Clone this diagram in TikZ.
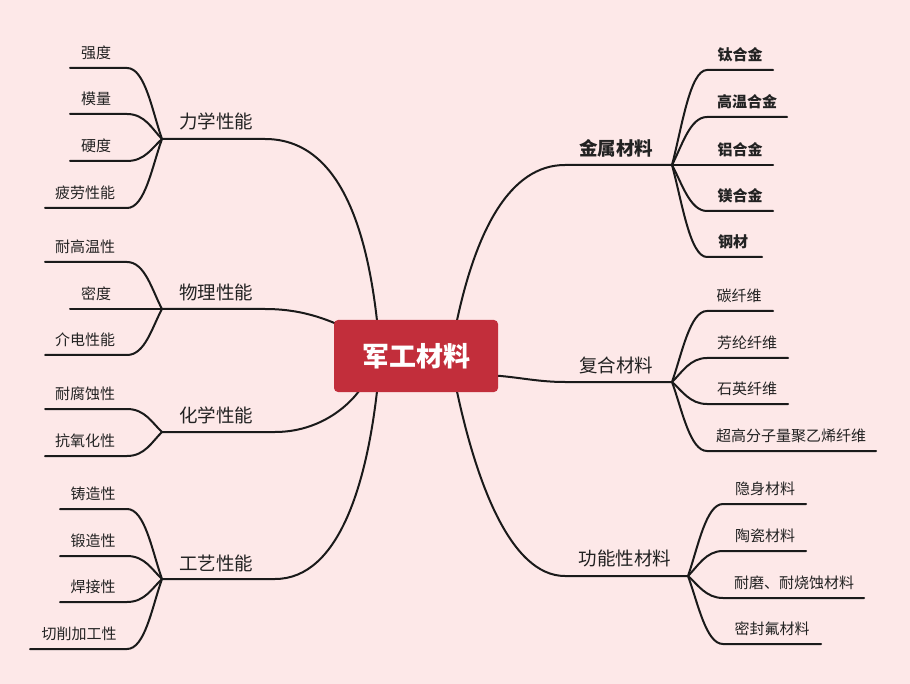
\documentclass[tikz,border=0pt]{standalone}
\usepackage{fontspec}
\setmainfont{Noto Sans CJK SC}
\definecolor{bgc}{HTML}{FDE8E8}
\definecolor{boxc}{HTML}{C22E3B}
\definecolor{linec}{HTML}{1A1A1A}
\definecolor{txtc}{HTML}{222222}
\tikzset{
  conn/.style={draw=linec, line width=2pt, line cap=round},
  leaflabel/.style={font=\fontsize{15}{18}\selectfont, text=txtc, inner sep=0pt},
  branchlabel/.style={font=\fontsize{18.5}{22}\selectfont, text=txtc, inner sep=0pt},
  rootbox/.style={fill=boxc, rounded corners=4pt, minimum width=164pt, minimum height=72pt, text=white, font=\fontsize{27}{32}\selectfont\bfseries},
}
% name, joint, jy, xa, y, lx, text
\newcommand\LeafL[7]{%
  \coordinate (#1-a) at (#4,#5);
  \coordinate (#1-b) at (127,#5);
  \node[leaflabel] (#1) at (#6,#5-15) {#7};
  \draw[conn] (#1-a) -- (#1-b) .. controls (145,#5) and (152,{0.6*#3+0.4*#5}) .. (#2);
}
% name, joint, jx, jy, xb, y, lx, text
\newcommand\LeafR[8]{%
  \coordinate (#1-a) at (#3+35,#6);
  \coordinate (#1-b) at (#5,#6);
  \node[leaflabel] (#1) at (#7,#6-15) {#8};
  \draw[conn] (#2) .. controls (#3+10,{0.6*#4+0.4*#6}) and (#3+18,#6) .. (#1-a) -- (#1-b);
}
\begin{document}
\begin{tikzpicture}[x=1pt,y=-1pt]
\fill[bgc] (0,0) rectangle (910,684);
\useasboundingbox (0,0) rectangle (910,684);

% joints and branch points
\coordinate (J1) at (162,139); \coordinate (B1) at (265,139); \coordinate (C1) at (378,330);
\coordinate (J2) at (162,309); \coordinate (B2) at (265,309); \coordinate (C2) at (350,330);
\coordinate (J3) at (162,432); \coordinate (B3) at (275,432); \coordinate (C3) at (365,382);
\coordinate (J4) at (162,579); \coordinate (B4) at (275,579); \coordinate (C4) at (378,382);
\coordinate (J5) at (672,165); \coordinate (B5) at (565,165); \coordinate (C5) at (455,330);
\coordinate (J6) at (672,382); \coordinate (B6) at (565,382); \coordinate (C6) at (485,375);
\coordinate (J7) at (688,576); \coordinate (B7) at (565,576); \coordinate (C7) at (455,382);

\draw[conn] (J1) -- (B1) .. controls (340,139) and (368,230) .. (C1);
\draw[conn] (J2) -- (B2) .. controls (300,309) and (325,318) .. (C2);
\draw[conn] (J3) -- (B3) .. controls (320,432) and (352,405) .. (C3);
\draw[conn] (J4) -- (B4) .. controls (340,579) and (368,480) .. (C4);
\draw[conn] (J5) -- (B5) .. controls (510,165) and (475,230) .. (C5);
\draw[conn] (J6) -- (B6) .. controls (535,382) and (515,376) .. (C6);
\draw[conn] (J7) -- (B7) .. controls (510,576) and (475,480) .. (C7);

\node[rootbox] (root) at (416,356) {军工材料};

\node[branchlabel] (m1) at (216,121) {力学性能};
\node[branchlabel] (m2) at (216,292) {物理性能};
\node[branchlabel] (m3) at (216,415) {化学性能};
\node[branchlabel] (m4) at (216,563) {工艺性能};
\node[branchlabel] (m5) at (616,148) {\bfseries 金属材料};
\node[branchlabel] (m6) at (616,365) {复合材料};
\node[branchlabel] (m7) at (625,558) {功能性材料};

\LeafL{l11}{J1}{139}{70}{68}{96}{强度}
\LeafL{l12}{J1}{139}{70}{114}{96}{模量}
\LeafL{l13}{J1}{139}{70}{161}{96}{硬度}
\LeafL{l14}{J1}{139}{45}{208}{85}{疲劳性能}
\LeafL{l21}{J2}{309}{45}{262}{85}{耐高温性}
\LeafL{l22}{J2}{309}{70}{309}{96}{密度}
\LeafL{l23}{J2}{309}{45}{355}{85}{介电性能}
\LeafL{l31}{J3}{432}{45}{409}{85}{耐腐蚀性}
\LeafL{l32}{J3}{432}{45}{456}{85}{抗氧化性}
\LeafL{l41}{J4}{579}{60}{509}{93}{铸造性}
\LeafL{l42}{J4}{579}{60}{556}{93}{锻造性}
\LeafL{l43}{J4}{579}{60}{602}{93}{焊接性}
\LeafL{l44}{J4}{579}{30}{649}{79}{切削加工性}

\LeafR{r11}{J5}{672}{165}{773}{70}{740}{\bfseries 钛合金}
\LeafR{r12}{J5}{672}{165}{787}{117}{747}{\bfseries 高温合金}
\LeafR{r13}{J5}{672}{165}{773}{165}{740}{\bfseries 铝合金}
\LeafR{r14}{J5}{672}{165}{773}{211}{740}{\bfseries 镁合金}
\LeafR{r15}{J5}{672}{165}{762}{257}{733}{\bfseries 钢材}
\LeafR{r21}{J6}{672}{382}{773}{311}{739}{碳纤维}
\LeafR{r22}{J6}{672}{382}{788}{358}{747}{芳纶纤维}
\LeafR{r23}{J6}{672}{382}{788}{404}{747}{石英纤维}
\LeafR{r24}{J6}{672}{382}{876}{451}{791}{超高分子量聚乙烯纤维}
\LeafR{r31}{J7}{688}{576}{806}{504}{765}{隐身材料}
\LeafR{r32}{J7}{688}{576}{806}{551}{765}{陶瓷材料}
\LeafR{r33}{J7}{688}{576}{864}{598}{794}{耐磨、耐烧蚀材料}
\LeafR{r34}{J7}{688}{576}{821}{644}{772}{密封氟材料}
\end{tikzpicture}
\end{document}
